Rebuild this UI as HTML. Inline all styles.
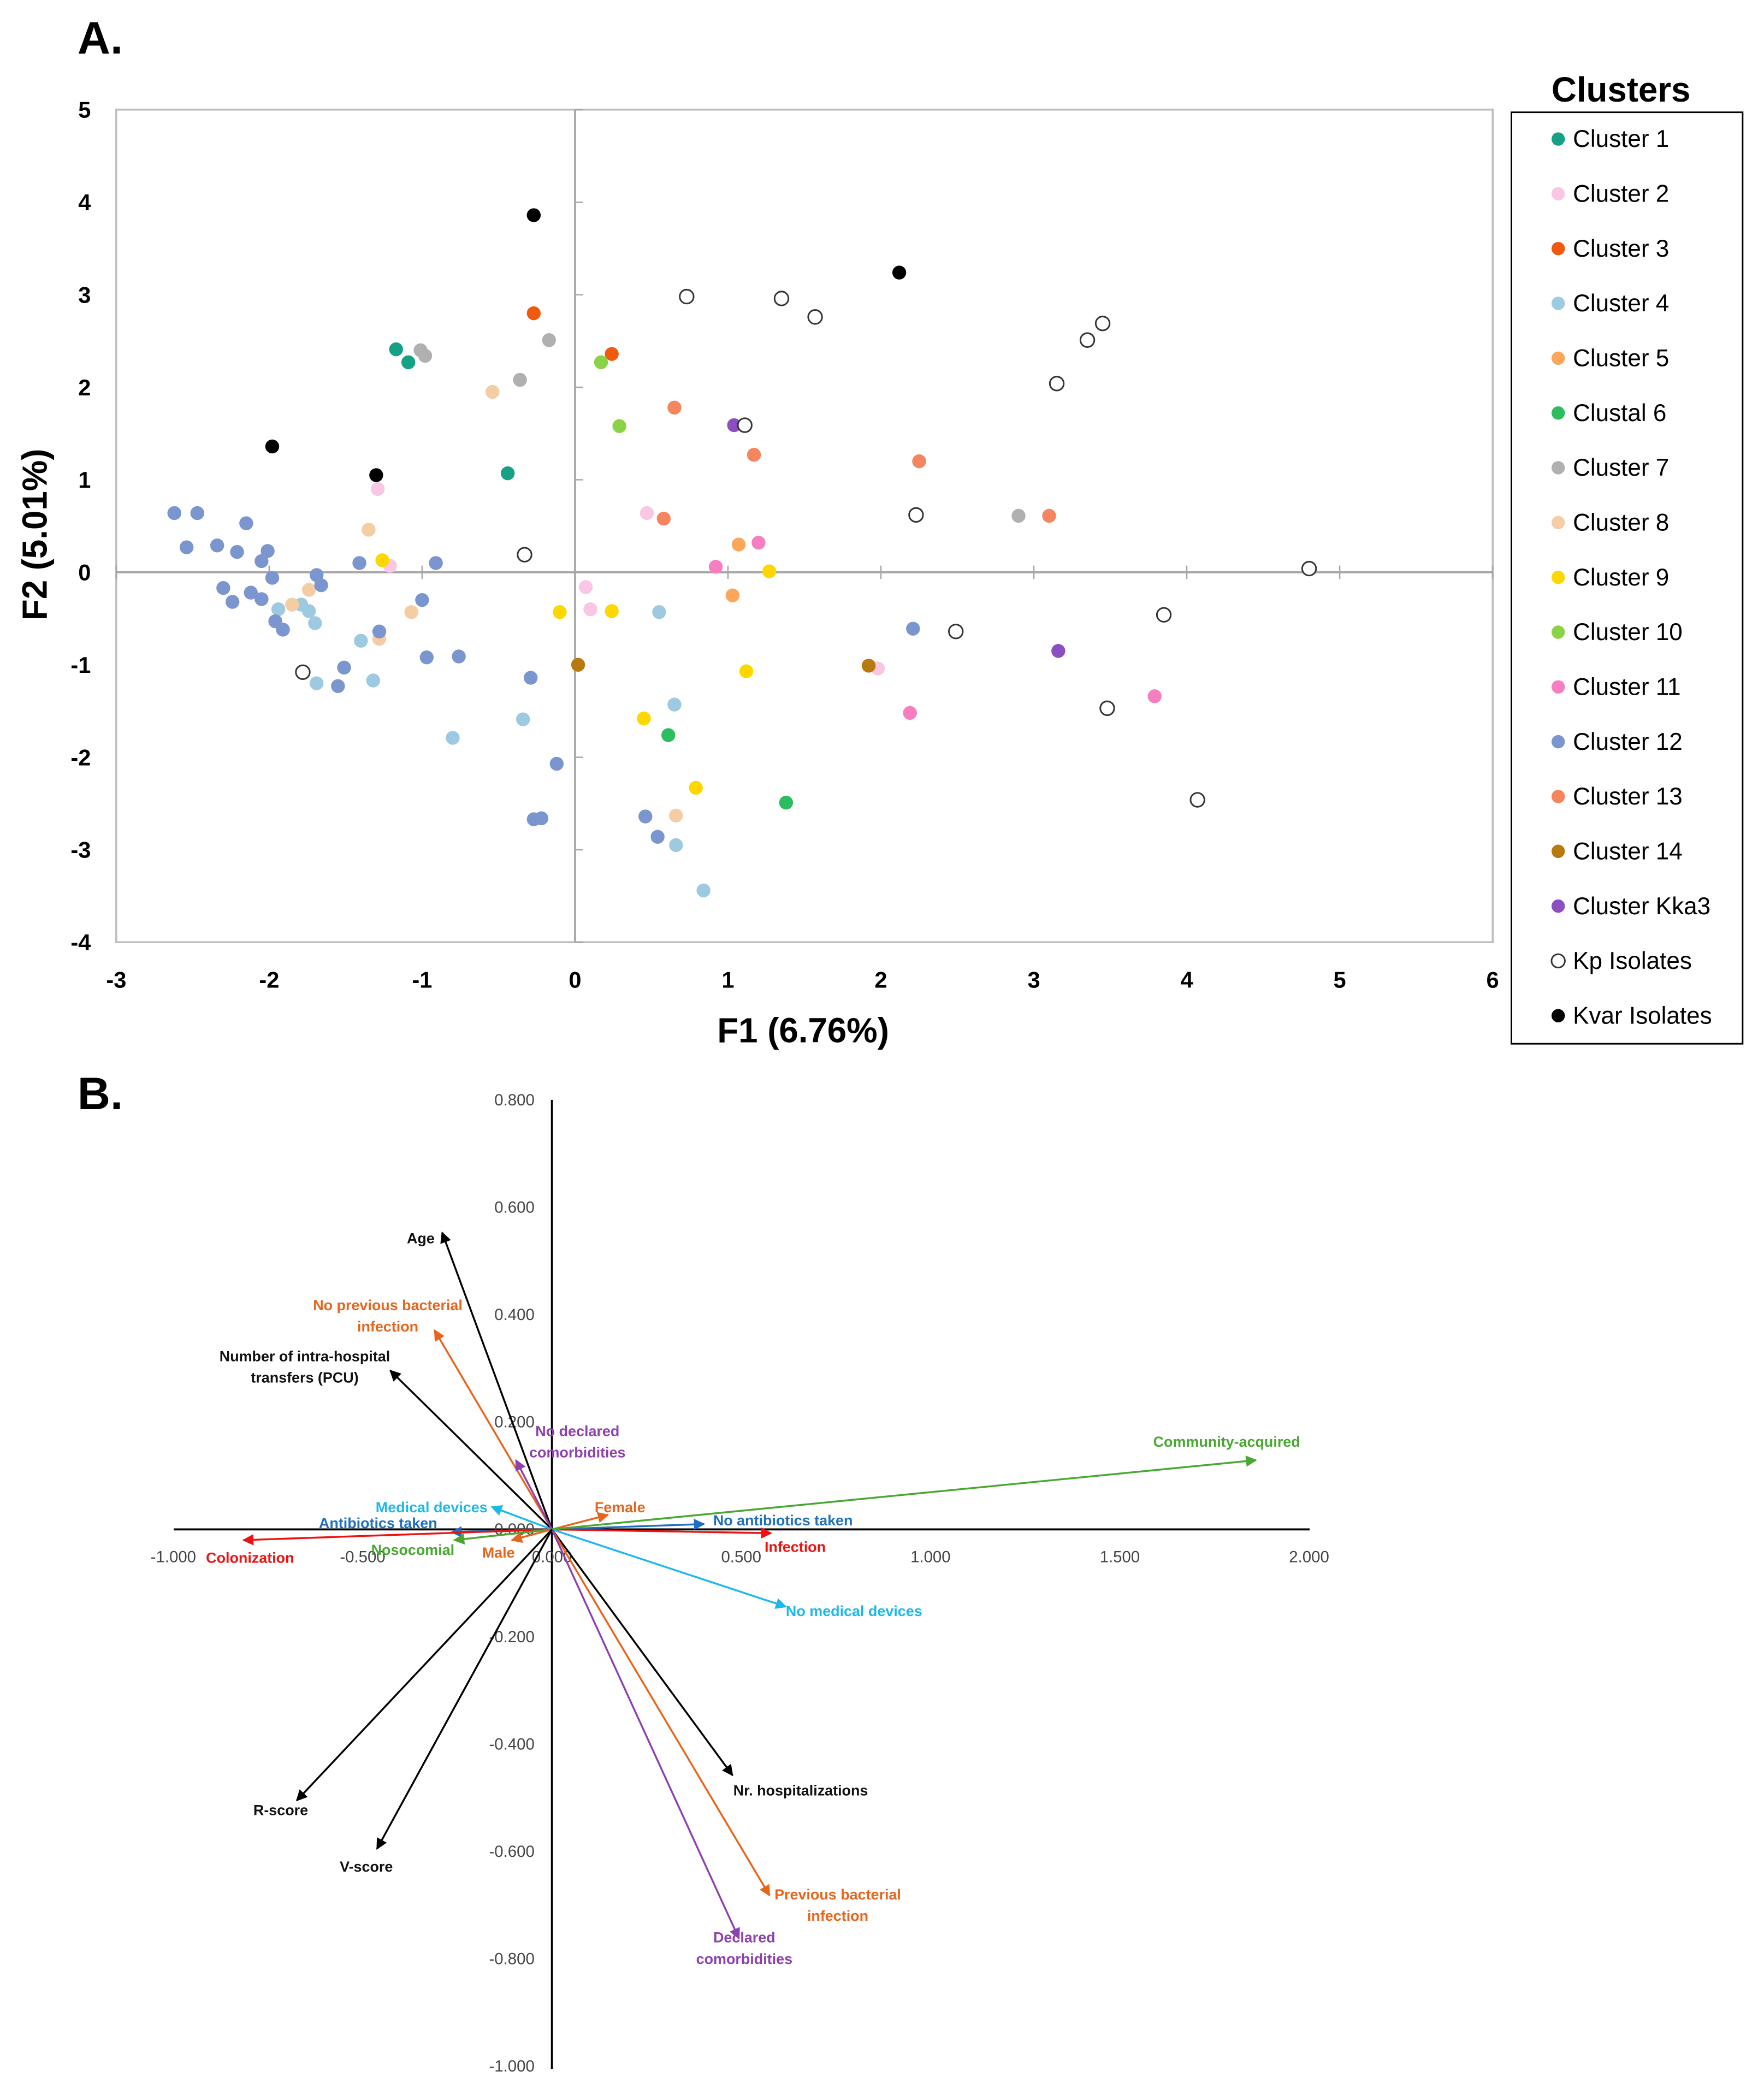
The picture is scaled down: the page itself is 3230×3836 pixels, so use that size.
<!DOCTYPE html>
<html><head><meta charset="utf-8">
<style>
html,body{margin:0;padding:0;background:#fff;}
svg{display:block;font-family:"Liberation Sans",sans-serif;}
</style></head>
<body>
<svg id="fig" width="3230" height="3836" viewBox="0 0 1320 1567.6" xmlns="http://www.w3.org/2000/svg"></svg>
<script>
// ---------- Panel A data ----------
const clusterNames = ["Cluster 1","Cluster 2","Cluster 3","Cluster 4","Cluster 5","Clustal 6","Cluster 7","Cluster 8","Cluster 9","Cluster 10","Cluster 11","Cluster 12","Cluster 13","Cluster 14","Cluster Kka3","Kp Isolates","Kvar Isolates"];
const clusterColors = ["#16a085","#f9c6e4","#f15a0e","#9ecae1","#fba75b","#2bbd5e","#b0b0b0","#f5cda5","#ffd700","#8bd346","#f77fc1","#7b96cf","#f4855e","#b8790e","#8b4fc2","#ffffff","#000000"];
const pts = [
 [[-1.17,2.41],[-1.09,2.27],[-0.44,1.07]],
 [[-1.29,0.90],[-1.21,0.07],[0.07,-0.16],[0.10,-0.40],[0.47,0.64],[1.98,-1.04]],
 [[-0.27,2.80],[0.24,2.36]],
 [[-1.94,-0.40],[-1.79,-0.35],[-1.74,-0.42],[-1.70,-0.55],[-1.69,-1.20],[-1.40,-0.74],[-1.32,-1.17],[-0.80,-1.79],[-0.34,-1.59],[0.55,-0.43],[0.65,-1.43],[0.66,-2.95],[0.84,-3.44]],
 [[1.07,0.30],[1.03,-0.25]],
 [[0.61,-1.76],[1.38,-2.49]],
 [[-1.01,2.40],[-0.98,2.34],[-0.17,2.51],[-0.36,2.08],[2.90,0.61]],
 [[-0.54,1.95],[-1.35,0.46],[-1.74,-0.19],[-1.85,-0.35],[-1.28,-0.72],[-1.07,-0.43],[0.66,-2.63]],
 [[-1.26,0.13],[-0.10,-0.43],[0.24,-0.42],[1.27,0.01],[1.12,-1.07],[0.45,-1.58],[0.79,-2.33]],
 [[0.17,2.27],[0.29,1.58]],
 [[1.20,0.32],[0.92,0.06],[2.19,-1.52],[3.79,-1.34]],
 [[-2.62,0.64],[-2.47,0.64],[-2.54,0.27],[-2.34,0.29],[-2.15,0.53],[-2.21,0.22],[-2.01,0.23],[-2.05,0.12],[-1.98,-0.06],[-2.30,-0.17],[-2.24,-0.32],[-2.12,-0.22],[-2.05,-0.29],[-1.96,-0.53],[-1.91,-0.62],[-1.69,-0.03],[-1.66,-0.14],[-1.41,0.10],[-0.91,0.10],[-1.00,-0.30],[-1.28,-0.64],[-1.51,-1.03],[-1.55,-1.23],[-0.97,-0.92],[-0.76,-0.91],[-0.29,-1.14],[-0.12,-2.07],[-0.27,-2.67],[-0.22,-2.66],[0.46,-2.64],[0.54,-2.86],[2.21,-0.61]],
 [[0.65,1.78],[1.17,1.27],[2.25,1.20],[3.10,0.61],[0.58,0.58]],
 [[0.02,-1.00],[1.92,-1.01]],
 [[1.04,1.59],[3.16,-0.85]],
 [[0.73,2.98],[1.35,2.96],[1.57,2.76],[3.45,2.69],[3.35,2.51],[3.15,2.04],[1.11,1.59],[2.23,0.62],[-0.33,0.19],[4.80,0.04],[2.49,-0.64],[3.85,-0.46],[3.48,-1.47],[4.07,-2.46],[-1.78,-1.08]],
 [[-0.27,3.86],[2.12,3.24],[-1.98,1.36],[-1.30,1.05]]
];
const xTicksA = [-3,-2,-1,0,1,2,3,4,5,6];
const yTicksA = [-4,-3,-2,-1,0,1,2,3,4,5];

// ---------- Panel B data ----------
const varNames = ["Age","No previous bacterial|infection","Number of intra-hospital|transfers (PCU)","No declared|comorbidities","Medical devices","Antibiotics taken","Colonization","Nosocomial","Male","Female","No antibiotics taken","Infection","Community-acquired","No medical devices","Nr. hospitalizations","Previous bacterial|infection","Declared|comorbidities","R-score","V-score"];
const varF1 = [-0.29,-0.31,-0.427,-0.095,-0.159,-0.265,-0.815,-0.258,-0.106,0.148,0.402,0.579,1.86,0.618,0.477,0.575,0.494,-0.674,-0.462];
const varF2 = [0.553,0.371,0.296,0.129,0.042,-0.005,-0.02,-0.02,-0.02,0.027,0.01,-0.007,0.129,-0.144,-0.458,-0.682,-0.762,-0.505,-0.595];
const varColors = ["#000","#e8641b","#000","#8e3fb0","#1cb8ea","#1e6fc0","#ee1111","#4aa832","#e8641b","#e8641b","#1e6fc0","#ee1111","#4aa832","#1cb8ea","#000","#e8641b","#8e3fb0","#000","#000"];
const labelDx = [-16,-35,-64,46,-45,-55,5,-31,-10,9,59,18,-22,51,51,51,4,-12,-8];
const labelDy = [4,-11,-3,-14,0,-7,13,7,9,-6,-3,10,-14,3,11,7,7,7,13];
const xTicksB = [-1,-0.5,0,0.5,1,1.5,2];
const yTicksB = [-1,-0.8,-0.6,-0.4,-0.2,0,0.2,0.4,0.6,0.8];

const NS="http://www.w3.org/2000/svg";
const svg=document.getElementById('fig');
function mk(tag,attrs,parent){const e=document.createElementNS(NS,tag);for(const k in attrs)e.setAttribute(k,attrs[k]);(parent||svg).appendChild(e);return e;}
function txt(s,x,y,attrs,parent){const e=mk('text',Object.assign({x:x,y:y},attrs),parent);e.textContent=s;return e;}

// ---------- Panel A ----------
const ax=v=>430.3+(v)*114.44;
const ay=v=>428.2-(v)*69.22;
let t=txt("A.",58,40,{"font-size":34,"font-weight":"bold"});


let r=mk('rect',{x:87,y:82,width:1030,height:623,fill:"none",stroke:"#bfbfbf","stroke-width":1.5});


let l=mk('line',{x1:87,x2:1117,y1:ay(0),y2:ay(0),stroke:"#a6a6a6","stroke-width":1.5});


l=mk('line',{x1:ax(0),x2:ax(0),y1:82,y2:705,stroke:"#a6a6a6","stroke-width":1.5});


xTicksA.forEach(v=>{
  const e=txt(String(v),ax(v),739,{"font-size":17,"font-weight":"bold","text-anchor":"middle"});
  
  
  const m=mk('line',{x1:ax(v),x2:ax(v),y1:ay(0)-5,y2:ay(0)+5,stroke:"#a6a6a6"});
  
  
});
yTicksA.forEach(v=>{
  const e=txt(String(v),68,ay(v)+6,{"font-size":17,"font-weight":"bold","text-anchor":"end"});
  
  
  const m=mk('line',{x1:ax(0),x2:ax(0)+6,y1:ay(v),y2:ay(v),stroke:"#a6a6a6"});
  
  
});
t=txt("F1 (6.76%)",601,780,{"font-size":26,"font-weight":"bold","text-anchor":"middle"});


t=txt("F2 (5.01%)",0,0,{"font-size":26,"font-weight":"bold","text-anchor":"middle",transform:"translate(35,400) rotate(-90)"});


pts.forEach((arr,ci)=>{
  arr.forEach(p=>{
    const c=mk('circle',{cx:ax(p[0]),cy:ay(p[1]),r:5.2,fill:clusterColors[ci],stroke:ci===15?"#333":"none","stroke-width":1.2});
    
    
  });
});
// legend
t=txt("Clusters",1213,76,{"font-size":26,"font-weight":"bold","text-anchor":"middle"});


r=mk('rect',{x:1131,y:84,width:173,height:697,fill:"none",stroke:"#000","stroke-width":1.2});


clusterNames.forEach((n,i)=>{
  const y=104+i*41;
  const c=mk('circle',{cx:1166,cy:y,r:5,fill:clusterColors[i],stroke:i===15?"#333":"none","stroke-width":1.2});
  
  
  const e=txt(n,1177,y+6,{"font-size":18});
  
  
});

// ---------- Panel B ----------
const bx=v=>413+v*283.3;
const by=v=>1144.4-v*401.7;
t=txt("B.",58,830,{"font-size":34,"font-weight":"bold"});


l=mk('line',{x1:130,x2:980,y1:by(0),y2:by(0),stroke:"#000","stroke-width":1.5});


l=mk('line',{x1:bx(0),x2:bx(0),y1:823,y2:1548,stroke:"#000","stroke-width":1.5});


xTicksB.forEach(v=>{
  const e=txt(v.toFixed(3),bx(v),1169,{"font-size":12,fill:"#444","text-anchor":"middle"});
  
  
});
yTicksB.forEach(v=>{
  const e=txt(v.toFixed(3),400,by(v)+4,{"font-size":12,fill:"#444","text-anchor":"end"});
  
  
});
const defs=mk('defs',{});
varNames.forEach((n,i)=>{
  const col=varColors[i];
  const mid='ah'+i;
  const m=mk('marker',{id:mid,viewBox:"0 0 10 10",refX:9,refY:5,markerWidth:6,markerHeight:6,orient:"auto"},defs);
  mk('path',{d:"M0,0 L10,5 L0,10 z",fill:col},m);
  const x2=bx(varF1[i]),y2=by(varF2[i]);
  const a=mk('line',{x1:bx(0),y1:by(0),x2:x2,y2:y2,stroke:col,"stroke-width":1.4,"marker-end":"url(#"+mid+")"});
  
  
  const lines=n.split('|');
  const lx=x2+labelDx[i], ly=y2+labelDy[i];
  lines.forEach((s,j)=>{
    const e=txt(s,lx,ly+j*16-(lines.length-1)*8+4,{"font-size":11,"font-weight":"bold",fill:col==="#000"?"#111":col,"text-anchor":"middle"});
    
    
  });
});
</script>
</body></html>
